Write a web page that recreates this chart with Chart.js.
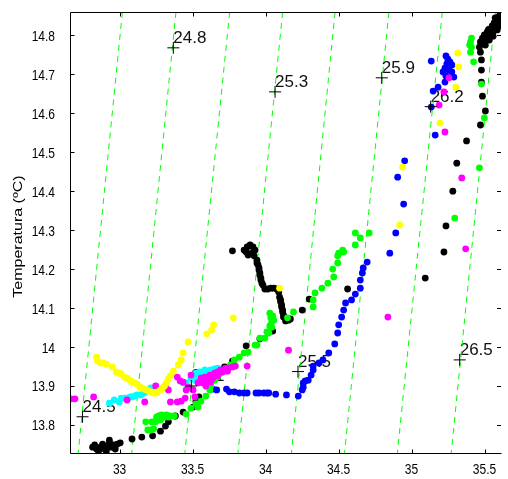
<!DOCTYPE html>
<html>
<head>
<meta charset="utf-8">
<script src="https://cdn.jsdelivr.net/npm/chart.js@4.4.1/dist/chart.umd.min.js"></script>
<style>
  html, body { margin: 0; padding: 0; background: #fff; overflow: hidden; }
  canvas { display: block; }
</style>
</head>
<body>
<canvas id="ts-diagram" width="508" height="479"></canvas>
<script>
// axis setup
const salMin = 32.66, salMax = 35.613;
const tempMin = 13.728, tempMax = 14.86;
const xTicks = [33, 33.5, 34, 34.5, 35, 35.5];
const xTickLabels = ['33', '33.5', '34', '34.5', '35', '35.5'];
const yTicks = [13.8, 13.9, 14, 14.1, 14.2, 14.3, 14.4, 14.5, 14.6, 14.7, 14.8];
const yTickLabels = ['13.8', '13.9', '14', '14.1', '14.2', '14.3', '14.4', '14.5', '14.6', '14.7', '14.8'];
const yTitle = 'Temperatura (ºC)';

// sigma-t isolines: salinity where each one crosses the top and the bottom of the plot
const isoLevels = ['24.5', '24.8', '25.1', '25.3', '25.5', '25.9', '26.2', '26.5'];
const isoTopSal = [33.019, 33.386, 33.754, 34.117, 34.476, 34.845, 35.211, 35.575];
const isoBottomSal = [32.716, 33.083, 33.447, 33.811, 34.177, 34.541, 34.903, 35.272];
const isoLabelSal = [32.746, 33.368, 33.491, 34.065, 34.222, 34.796, 35.131, 35.330];
const isoLabelTemp = [13.821, 14.768, 13.900, 14.655, 13.937, 14.691, 14.617, 13.967];

// stations, [salinity, temperature]
const blackSt = [
  [32.815,13.743],[32.829,13.749],[32.842,13.738],[32.856,13.733],[32.869,13.743],[32.883,13.751],
  [32.896,13.738],[32.909,13.733],[32.916,13.746],[32.930,13.754],[32.930,13.761],[32.943,13.743],
  [32.957,13.749],[32.970,13.738],[32.984,13.751],[33.004,13.754],
  [33.085,13.764],[33.152,13.769],[33.226,13.772],[33.280,13.784],[33.314,13.797],[33.334,13.808],
  [33.382,13.823],[33.435,13.833],[33.503,13.846],[33.523,13.861],[33.543,13.872],[33.719,13.949],
  [33.773,13.964],[33.867,14.003],[33.961,14.021],[34.049,14.041],[34.150,14.072],[34.251,14.095],
  [34.299,14.123],[34.562,14.149],
  [33.773,14.247],[33.853,14.249],[33.874,14.257],[33.894,14.262],[33.914,14.257],[33.928,14.249],
  [33.907,14.241],[33.880,14.236],[33.867,14.244],[33.921,14.234],[33.941,14.223],[33.941,14.216],
  [33.948,14.211],[33.955,14.203],[33.955,14.198],[33.961,14.190],[33.961,14.185],[33.968,14.177],
  [33.968,14.172],[33.975,14.164],[33.982,14.159],[33.995,14.149],[34.015,14.149],[34.036,14.151],
  [34.056,14.151],[34.076,14.149],[34.090,14.141],[34.096,14.128],[34.103,14.121],[34.103,14.116],
  [34.110,14.108],[34.110,14.103],[34.117,14.095],[34.117,14.090],[34.123,14.082],[34.123,14.077],
  [34.137,14.067],[34.157,14.069],[34.170,14.072],
  [35.472,14.757],[35.465,14.770],[35.472,14.783],[35.486,14.793],[35.499,14.801],[35.519,14.809],
  [35.533,14.816],[35.553,14.824],[35.566,14.832],[35.580,14.839],[35.593,14.847],[35.607,14.855],
  [35.492,14.778],[35.512,14.788],[35.539,14.798],[35.559,14.809],[35.580,14.819],[35.600,14.829],
  [35.613,14.839],[35.526,14.814],[35.573,14.845],[35.506,14.775],[35.533,14.788],[35.559,14.798],
  [35.587,14.814],[35.607,14.824],
  [35.479,14.737],[35.479,14.711],[35.479,14.680],[35.486,14.644],[35.506,14.606],[35.472,14.570],
  [35.377,14.529],[35.310,14.472],[35.283,14.400],[35.236,14.311],[35.222,14.244],[35.094,14.177]
];
const blueSt = [
  [33.638,13.892],[33.665,13.890],[33.732,13.892],[33.752,13.885],[33.786,13.885],[33.820,13.882],
  [33.853,13.882],[33.874,13.882],[33.934,13.882],[33.955,13.882],[33.988,13.882],[34.009,13.882],
  [34.022,13.882],[34.069,13.879],[34.143,13.877],[34.224,13.874],
  [34.251,13.890],[34.258,13.897],[34.258,13.908],[34.272,13.913],[34.292,13.915],[34.312,13.928],
  [34.326,13.941],[34.326,13.951],[34.366,13.959],[34.393,13.967],[34.433,13.985],[34.474,14.008],
  [34.494,14.036],[34.501,14.057],[34.521,14.077],[34.535,14.095],[34.548,14.113],[34.589,14.121],
  [34.615,14.136],[34.649,14.151],[34.649,14.172],[34.663,14.190],[34.669,14.203],[34.696,14.218],
  [34.851,14.241],[34.892,14.293],
  [34.946,14.367],[34.905,14.436],[34.953,14.478],[35.162,14.544],[35.135,14.616],[35.148,14.657],
  [35.182,14.667],[35.229,14.680],[35.135,14.734],[35.236,14.747],[35.249,14.739],[35.263,14.732],
  [35.276,14.724],[35.242,14.727],[35.229,14.716],[35.256,14.711],[35.216,14.706],[35.276,14.706],
  [35.236,14.696],[35.290,14.693]
];
const greenSt = [
  [33.179,13.808],[33.193,13.787],[33.213,13.787],[33.233,13.790],[33.220,13.808],[33.247,13.808],
  [33.253,13.820],[33.267,13.823],[33.280,13.813],[33.287,13.826],[33.301,13.820],[33.321,13.826],
  [33.334,13.820],[33.348,13.823],[33.375,13.823],[33.456,13.828],[33.489,13.843],[33.523,13.854],
  [33.537,13.846],[33.557,13.861],[33.591,13.874],[33.618,13.890],[33.624,13.900],[33.651,13.915],
  [33.671,13.923],[33.692,13.933],[33.759,13.954],[33.786,13.967],[33.820,13.974],[33.853,13.985],
  [33.880,13.987],[33.928,14.005],[33.941,14.005],[33.961,14.023],[33.995,14.023],[34.009,14.039],
  [34.022,14.036],
  [34.029,14.087],[34.036,14.075],[34.042,14.064],[34.049,14.080],[34.056,14.069],[34.029,14.054],
  [34.042,14.051],
  [34.150,14.075],[34.191,14.090],[34.326,14.103],[34.326,14.121],[34.339,14.139],[34.386,14.151],
  [34.427,14.164],[34.467,14.180],[34.460,14.200],[34.494,14.216],[34.494,14.234],[34.501,14.241],
  [34.528,14.249],[34.535,14.244],[34.615,14.262],[34.649,14.280],[34.615,14.293],[34.710,14.293],
  [35.296,14.331],[35.465,14.460],[35.499,14.588],[35.479,14.675],[35.425,14.732],[35.404,14.757],
  [35.411,14.770],[35.404,14.783],[35.411,14.793],[35.398,14.775]
];
const yellowSt = [
  [32.842,13.974],[32.849,13.964],[32.869,13.959],[32.889,13.959],[32.909,13.956],[32.950,13.949],
  [32.977,13.936],[32.997,13.933],[33.011,13.931],[33.031,13.923],[33.051,13.920],[33.071,13.915],
  [33.085,13.910],[33.105,13.908],[33.119,13.905],[33.139,13.897],[33.152,13.895],[33.166,13.892],
  [33.186,13.890],[33.199,13.887],[33.213,13.885],[33.233,13.882],[33.247,13.882],[33.260,13.885],
  [33.280,13.890],[33.294,13.895],[33.307,13.900],[33.321,13.908],[33.334,13.918],[33.348,13.926],
  [33.368,13.938],[33.402,13.954],[33.422,13.967],[33.435,13.985],[33.469,14.013],[33.597,14.034],
  [33.631,14.044],[33.644,14.057],[33.779,14.075],[34.096,14.151],
  [34.919,14.313],[34.939,14.462],[35.195,14.575],[35.303,14.667],[35.323,14.719],[35.317,14.755]
];
const magentaSt = [
  [32.667,13.867],[32.694,13.867],[32.822,13.872],[33.051,13.864],[33.172,13.859],[33.247,13.900],
  [33.267,13.890],[33.314,13.897],[33.334,13.890],[33.348,13.859],[33.395,13.859],[33.422,13.861],
  [33.449,13.869],[33.395,13.923],[33.415,13.913],[33.435,13.910],[33.456,13.890],[33.469,13.897],
  [33.489,13.928],[33.503,13.890],[33.516,13.872],[33.537,13.908],[33.557,13.920],[33.584,13.923],
  [33.618,13.928],[33.651,13.933],[33.671,13.936],[33.692,13.941],[33.725,13.946],[33.746,13.946],
  [33.773,13.949],[33.793,13.951],[33.874,13.951],[33.604,13.915],[33.624,13.910],[33.638,13.920],
  [33.570,13.908],[33.671,13.926],[33.705,13.936],[33.739,13.938],[33.591,13.900],
  [34.157,13.992],[34.838,14.077],[35.371,14.252],[35.344,14.434],[35.229,14.552],[35.189,14.621],
  [35.222,14.655],[35.256,14.691]
];
const cyanSt = [
  [32.930,13.856],[32.963,13.864],[32.997,13.859],[33.011,13.869],[33.031,13.869],[33.044,13.869],
  [33.071,13.872],[33.085,13.872],[33.105,13.874],[33.119,13.877],[33.146,13.877],[33.166,13.882],
  [33.179,13.887],[33.199,13.890],[33.213,13.895],[33.247,13.892],[33.435,13.908],[33.456,13.908],
  [33.489,13.920],[33.503,13.926],[33.516,13.915],[33.523,13.933],[33.537,13.933],[33.550,13.936],
  [33.564,13.928],[33.584,13.941],[33.604,13.938],[33.624,13.941],[33.651,13.944],[33.671,13.946]
];

const FONT = '"Liberation Sans", Arial, sans-serif';
const SQUEEZE = 0.8;

function toXY(list) {
  return list.map(p => ({x: p[0], y: p[1]}));
}

function dots(list, color) {
  return {
    data: toXY(list),
    backgroundColor: color,
    borderWidth: 0,
    pointRadius: 3.4,
    pointHoverRadius: 3.4
  };
}

const isolines = isoLevels.map((lvl, i) => ({
  type: 'line',
  label: lvl,
  data: [{x: isoTopSal[i], y: tempMax}, {x: isoBottomSal[i], y: tempMin}],
  borderColor: '#00ff00',
  borderWidth: 1,
  borderDash: [6, 5],
  pointRadius: 0,
  fill: false,
  showLine: true
}));

const crosses = {
  data: isoLabelSal.map((s, i) => ({x: s, y: isoLabelTemp[i]})),
  pointStyle: 'cross',
  pointRadius: 6,
  pointHoverRadius: 6,
  borderColor: '#000',
  borderWidth: 1
};

// squeezed text, the way the saved figure shows it
function squeezedText(ctx, text, x, y, align) {
  ctx.save();
  ctx.translate(x, y);
  ctx.scale(SQUEEZE, 1);
  ctx.textAlign = align;
  ctx.fillText(text, 0, 0);
  ctx.restore();
}

const axesFrame = {
  id: 'axesFrame',
  beforeDatasetsDraw(chart) {
    const {ctx, scales: {x, y}} = chart;
    ctx.save();
    ctx.fillStyle = '#111';
    ctx.font = '17px ' + FONT;
    ctx.textAlign = 'left';
    ctx.textBaseline = 'alphabetic';
    isoLevels.forEach((lvl, i) => {
      ctx.fillText(lvl, x.getPixelForValue(isoLabelSal[i]), y.getPixelForValue(isoLabelTemp[i]) - 4.5);
    });
    ctx.restore();
  },
  afterDraw(chart) {
    const {ctx, chartArea: a, scales: {x, y}} = chart;
    const L = Math.round(a.left) + 0.5, R = Math.round(a.right) + 0.5;
    const T = Math.round(a.top) + 0.5, B = Math.round(a.bottom) + 0.5;
    ctx.save();
    ctx.strokeStyle = '#000';
    ctx.lineWidth = 1;
    ctx.beginPath();
    ctx.moveTo(L, B); ctx.lineTo(L, T); ctx.lineTo(R, T);
    ctx.moveTo(L, B); ctx.lineTo(R, B);
    xTicks.forEach(v => {
      const px = Math.round(x.getPixelForValue(v)) + 0.5;
      ctx.moveTo(px, B); ctx.lineTo(px, B - 4);
      ctx.moveTo(px, T); ctx.lineTo(px, T + 4);
    });
    yTicks.forEach(v => {
      const py = Math.round(y.getPixelForValue(v)) + 0.5;
      ctx.moveTo(L, py); ctx.lineTo(L + 4, py);
      ctx.moveTo(a.right, py); ctx.lineTo(a.right - 4, py);
    });
    ctx.stroke();

    ctx.fillStyle = '#000';
    ctx.font = '15px ' + FONT;
    ctx.textBaseline = 'alphabetic';
    xTicks.forEach((v, i) => {
      squeezedText(ctx, xTickLabels[i], x.getPixelForValue(v), a.bottom + 20.5, 'center');
    });
    yTicks.forEach((v, i) => {
      squeezedText(ctx, yTickLabels[i], a.left - 15, y.getPixelForValue(v) + 5.5, 'right');
    });

    // y title, rotated and narrowed across the glyphs
    ctx.font = '16px ' + FONT;
    ctx.translate(22, (a.top + a.bottom) / 2 + 4);
    ctx.rotate(-Math.PI / 2);
    ctx.scale(1, SQUEEZE);
    ctx.textAlign = 'center';
    ctx.fillText(yTitle, 0, 0);
    ctx.restore();
  }
};

const tsChart = new Chart(document.getElementById('ts-diagram'), {
  type: 'scatter',
  data: {
    datasets: [
      crosses,
      dots(yellowSt, '#ffff00'),
      dots(magentaSt, '#ff00ff'),
      dots(cyanSt, '#00ffff'),
      dots(greenSt, '#00ff00'),
      dots(blueSt, '#0000ff'),
      dots(blackSt, '#000000'),
      ...isolines
    ]
  },
  options: {
    responsive: false,
    devicePixelRatio: 1,
    animation: false,
    layout: {padding: {left: 70, top: 12, right: 0, bottom: 26}},
    scales: {
      x: {type: 'linear', min: salMin, max: salMax, display: false},
      y: {type: 'linear', min: tempMin, max: tempMax, display: false}
    },
    plugins: {
      legend: {display: false},
      tooltip: {enabled: false}
    }
  },
  plugins: [axesFrame]
});
</script>
</body>
</html>
